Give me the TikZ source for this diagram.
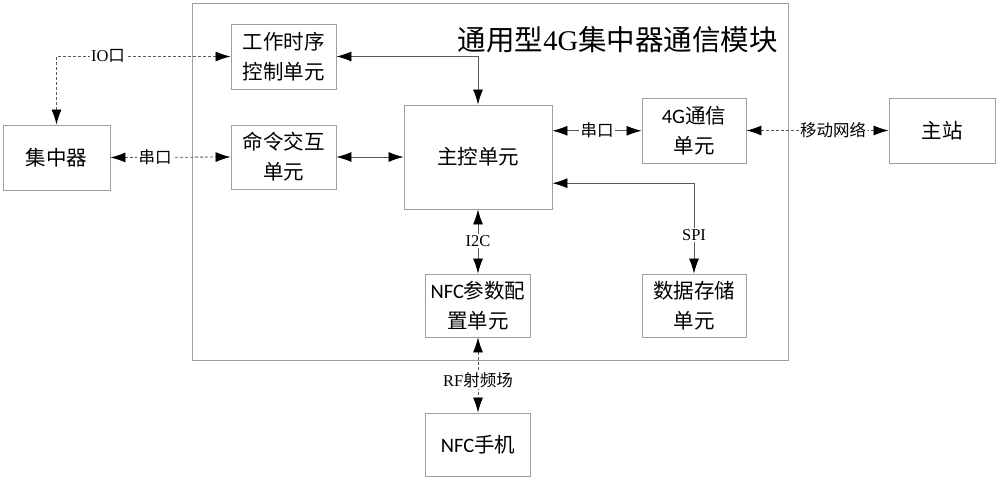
\documentclass[tikz,border=0pt]{standalone}
\usepackage{fontspec}
\setmainfont{Noto Sans CJK SC}
\newfontfamily\lser{Liberation Serif}
\newfontfamily\lsans{Carlito}
\usetikzlibrary{arrows.meta,calc}
\begin{document}
\begin{tikzpicture}[x=1pt,y=-1pt,
  box/.style={draw=gray!75, line width=0.9pt, align=center, inner sep=0pt,
    font=\fontsize{20.5}{30}\selectfont},
  conn/.style={draw=gray!70!black, line width=0.8pt,
    {Latex[length=15pt,width=10pt,color=black]}-{Latex[length=15pt,width=10pt,color=black]}},
  dconn/.style={conn, dash pattern=on 3pt off 2pt},
  lbl/.style={fill=white, inner sep=1.5pt, font=\fontsize{16.5}{18}\selectfont}]
\useasboundingbox (0,0) rectangle (1000,481);
% module frame
\node[draw=gray!75, line width=0.9pt, minimum width=596pt, minimum height=357pt, inner sep=0pt] (module) at (490,181.5) {};
\node[anchor=east, inner sep=0pt, font=\fontsize{28.5}{30}\selectfont] (title) at (778,40) {通用型{\lser 4G}集中器通信模块};
% boxes
\node[box, minimum width=105pt, minimum height=65pt] (work) at (283.5,56.5) {工作时序\\控制单元};
\node[box, minimum width=105pt, minimum height=64pt] (cmd) at (283.5,157) {命令交互\\单元};
\node[box, minimum width=107pt, minimum height=65pt] (conc) at (56.5,157.5) {集中器};
\node[box, minimum width=148pt, minimum height=104pt] (main) at (478,157) {主控单元};
\node[box, minimum width=104pt, minimum height=65pt] (g4) at (694,130.5) {{\lsans 4G}通信\\单元};
\node[box, minimum width=106pt, minimum height=65pt] (master) at (942,130.5) {主站};
\node[box, minimum width=105pt, minimum height=63pt] (nfcp) at (478,305.5) {{\lsans NFC}参数配\\置单元};
\node[box, minimum width=104pt, minimum height=63pt] (store) at (694,305.5) {数据存储\\单元};
\node[box, minimum width=105pt, minimum height=63pt] (phone) at (478,444.5) {{\lsans NFC}手机};
% connectors
\draw[dconn] (work.west) -| (conc.north);
\node[lbl] (lio) at (108,56) {{\lser IO}口};
\draw[dconn] (conc.east) -- (cmd.west);
\node[lbl] (lser1) at (155,157) {串口};
\draw[conn] (cmd.east) -- (cmd.east -| main.west);
\draw[conn] (work.east) -| (main.north);
\coordinate (m4) at ($(main.north east)!0.5!(main.east)$);
\draw[conn] (m4) -- (m4 -| g4.west);
\node[lbl] (lser2) at (597,130) {串口};
\draw[dconn] (g4.east) -- (g4.east -| master.west);
\node[lbl] (lnet) at (833,130) {移动网络};
\coordinate (ms) at ($(main.east)!0.5!(main.south east)$);
\draw[conn] (ms) -| (store.north);
\node[lbl] (lspi) at (694,235) {\lser SPI};
\draw[conn] (main.south) -- (nfcp.north);
\node[lbl] (li2c) at (478,241) {\lser I2C};
\draw[dconn] (nfcp.south) -- (phone.north);
\node[lbl] (lrf) at (478,380) {{\lser RF}射频场};
\end{tikzpicture}
\end{document}
